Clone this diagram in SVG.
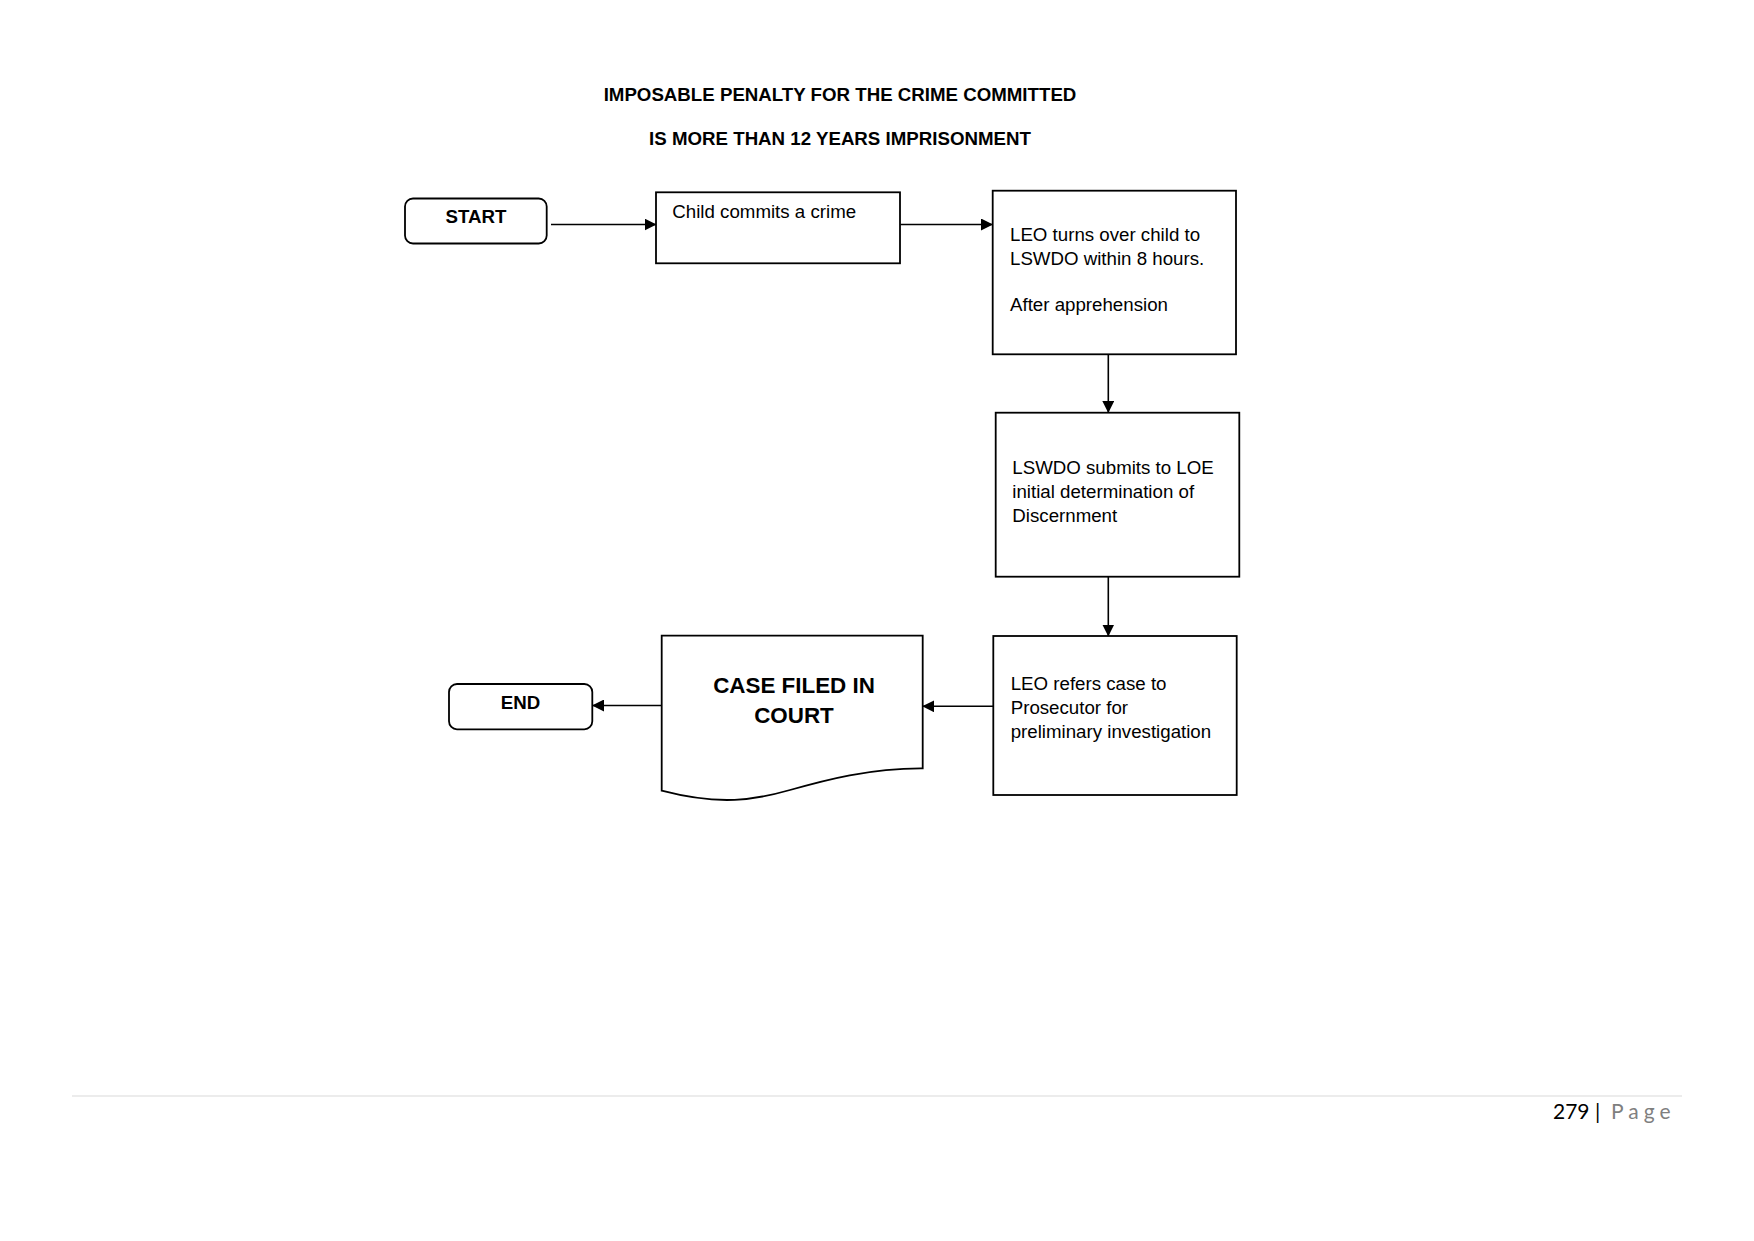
<svg xmlns="http://www.w3.org/2000/svg" width="1754" height="1241" viewBox="0 0 1754 1241">
<style>
.box{fill:#fff;stroke:#000;stroke-width:1.8}
.t{font-family:"Liberation Sans",Arial,sans-serif;font-size:18.7px;fill:#000}
.b{font-family:"Liberation Sans",Arial,sans-serif;font-weight:bold;fill:#000}
.c{fill:none;stroke:#000;stroke-width:1.6;marker-end:url(#ah)}
</style>
<defs>
<marker id="ah" markerUnits="userSpaceOnUse" markerWidth="12" markerHeight="12" refX="11.5" refY="6" orient="auto">
<path d="M0,0 L12,6 L0,12 Z" fill="#000"/>
</marker>
</defs>
<rect width="1754" height="1241" fill="#fff"/>
<g id="title">
<text class="b" x="840" y="100.7" font-size="18.7" text-anchor="middle">IMPOSABLE PENALTY FOR THE CRIME COMMITTED</text>
<text class="b" x="840" y="145" font-size="18.7" text-anchor="middle">IS MORE THAN 12 YEARS IMPRISONMENT</text>
</g>
<g id="connectors">
<line class="c" x1="551" y1="224.5" x2="656" y2="224.5"/>
<line class="c" x1="900.5" y1="224.5" x2="992.5" y2="224.5"/>
<line class="c" x1="1108.3" y1="354.5" x2="1108.3" y2="412.5"/>
<line class="c" x1="1108.3" y1="577" x2="1108.3" y2="636"/>
<line class="c" x1="993.3" y1="706.3" x2="922.7" y2="706.3"/>
<line class="c" x1="664" y1="705.5" x2="592.5" y2="705.5"/>
</g>
<g id="start">
<rect class="box" x="405" y="198.5" width="141.7" height="45" rx="8"/>
<text class="b" x="476" y="222.7" font-size="18.7" text-anchor="middle">START</text>
</g>
<g id="child">
<rect class="box" x="656" y="192.3" width="244" height="71"/>
<text class="t" x="672.3" y="218.3">Child commits a crime</text>
</g>
<g id="leo-turns">
<rect class="box" x="992.7" y="190.7" width="243.3" height="163.6"/>
<text class="t" x="1010" y="240.5">LEO turns over child to</text>
<text class="t" x="1010" y="265">LSWDO within 8 hours.</text>
<text class="t" x="1010" y="310.5">After apprehension</text>
</g>
<g id="lswdo">
<rect class="box" x="995.7" y="412.7" width="243.6" height="164"/>
<text class="t" x="1012.3" y="474">LSWDO submits to LOE</text>
<text class="t" x="1012.3" y="497.5">initial determination of</text>
<text class="t" x="1012.3" y="522">Discernment</text>
</g>
<g id="leo-refers">
<rect class="box" x="993.3" y="636" width="243.4" height="159"/>
<text class="t" x="1010.7" y="689.8">LEO refers case to</text>
<text class="t" x="1010.7" y="713.5">Prosecutor for</text>
<text class="t" x="1010.7" y="737.8">preliminary investigation</text>
</g>
<g id="case-filed">
<path class="box" d="M661.7,635.7 H922.7 V768.3 C870,768 825,780 790,790 C755,800 720,806 661.7,790.7 Z"/>
<text class="b" x="794" y="692.7" font-size="22.4" text-anchor="middle">CASE FILED IN</text>
<text class="b" x="794" y="722.7" font-size="22.4" text-anchor="middle">COURT</text>
</g>
<g id="end">
<rect class="box" x="449" y="684" width="143.3" height="45.3" rx="8"/>
<text class="b" x="520.5" y="709.3" font-size="18.7" text-anchor="middle">END</text>
</g>
<g id="footer">
<line x1="72" y1="1096" x2="1682" y2="1096" stroke="#d9d9d9" stroke-width="1"/>
<text x="1553" y="1119.3" font-family="Lato,'Open Sans',sans-serif" font-size="21" fill="#000">279 |</text>
<text x="1611" y="1119.3" font-family="Lato,'Open Sans',sans-serif" font-size="21" fill="#7f7f7f" letter-spacing="5">Page</text>
</g>
</svg>
